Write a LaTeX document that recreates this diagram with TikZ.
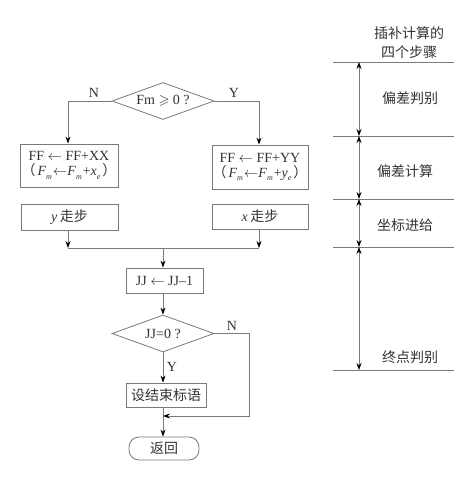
\documentclass[tikz,border=0pt]{standalone}
\usepackage{amssymb}
\usepackage{fontspec}
\setmainfont{Liberation Serif}
\newfontfamily\cjk{Noto Sans CJK SC}
\usetikzlibrary{shapes.geometric,arrows.meta}
\definecolor{ln}{HTML}{7A7A7A}
\definecolor{tx}{HTML}{333333}
\newcommand{\Fm}{\textit{F}\raisebox{-0.6ex}{\footnotesize\textit{m}}}
\newcommand{\subE}{\raisebox{-0.6ex}{\footnotesize\textit{e}}}
\begin{document}
\begin{tikzpicture}[x=1pt,y=-1pt,
  font=\fontsize{14}{16}\selectfont, text=tx,
  box/.style={draw=ln, line width=0.8pt, rectangle, inner sep=0pt, minimum width=#1},
  dia/.style={draw=ln, line width=0.8pt, diamond, aspect=2.75, inner sep=0pt, minimum width=102pt, minimum height=37pt},
  conn/.style={draw=ln, line width=0.8pt},
  arr/.style={conn, -{Stealth[length=7pt,width=5pt,fill=black,color=black]}},
  darr/.style={conn, {Stealth[length=7pt,width=5pt,fill=black,color=black]}-{Stealth[length=7pt,width=5pt,fill=black,color=black]}},
  lbl/.style={inner sep=0pt}]
\useasboundingbox (0,0) rectangle (476,480);
% flowchart
\node[dia] (d1) at (163,101) {Fm $\geqslant$ 0 ?};
\node[box=98pt, minimum height=43pt, align=center] (ff1) at (69,165.5) {FF $\leftarrow$ FF+XX\\[-1pt]{\cjk （}\hspace{2pt}\Fm\hspace{1pt}$\leftarrow$\Fm\hspace{1pt}+\textit{x}\subE\hspace{2pt}{\cjk ）}};
\node[box=96pt, minimum height=44pt, align=center] (ff2) at (260,167) {FF $\leftarrow$ FF+YY\\[-1pt]{\cjk （}\hspace{2pt}\Fm\hspace{1pt}$\leftarrow$\Fm\hspace{1pt}+\textit{y}\subE\hspace{2pt}{\cjk ）}};
\node[box=97pt, minimum height=26pt] (ys) at (69.5,217) {\textit{y}\,{\cjk 走步}};
\node[box=96pt, minimum height=25pt] (xs) at (260,216.5) {\textit{x}\,{\cjk 走步}};
\coordinate (jl) at (68,248);
\coordinate (jr) at (259,248);
\coordinate (jm) at (163,248);
\node[box=77pt, minimum height=25pt] (jj) at (164.5,280.5) {JJ $\leftarrow$ JJ--1};
\node[dia] (d2) at (163,333.5) {JJ=0 ?};
\node[box=80pt, minimum height=24pt] (end) at (166,395) {\cjk 设结束标语};
\node[draw=ln, line width=0.8pt, rounded corners=10pt, minimum width=70pt, minimum height=23pt, inner sep=0pt] (ret) at (164,448.5) {\cjk 返回};
\coordinate (m) at (163,416);
\coordinate (nr) at (249,333.5);
\coordinate (nb) at (249,416);
% connectors
\draw[arr] (d1.west) -| (jl |- ff1.north);
\draw[arr] (d1.east) -| (jr |- ff2.north);
\node[lbl] (n1) at (94,93) {N};
\node[lbl] (y1) at (234,93) {Y};
\draw[arr] (jl |- ys.south) -- (jl);
\draw[arr] (jr |- xs.south) -- (jr);
\draw[conn] (jl) -- (jr);
\draw[arr] (jm) -- (jm |- jj.north);
\draw[arr] (jm |- jj.south) -- (d2.north);
\draw[arr] (d2.south) -- (d2.south |- end.north);
\node[lbl] (y2) at (172,367) {Y};
\draw[arr] (d2.east) -- (nr) -- (nb) -- (m);
\node[lbl] (n2) at (232,326) {N};
\draw[arr] (m |- end.south) -- (m |- ret.north);
% right side
\node[lbl, font=\cjk\fontsize{14}{19}\selectfont, align=center] (head) at (409,43) {插补计算的\\四个步骤};
\foreach \i/\yy in {a/62,b/136,c/199,d/247,e/370}{
  \coordinate (L\i) at (333,\yy);
  \coordinate (R\i) at (454,\yy);
  \coordinate (V\i) at (359,\yy);
  \draw[conn] (L\i) -- (R\i);
}
\draw[darr] (Va) -- (Vb);
\draw[darr] (Vb) -- (Vc);
\draw[darr] (Vc) -- (Vd);
\draw[darr] (Vd) -- (Ve);
\node[lbl, font=\cjk\fontsize{14}{16}\selectfont] (s1) at (410,98) {偏差判别};
\node[lbl, font=\cjk\fontsize{14}{16}\selectfont] (s2) at (405,171) {偏差计算};
\node[lbl, font=\cjk\fontsize{14}{16}\selectfont] (s3) at (405,225) {坐标进给};
\node[lbl, font=\cjk\fontsize{14}{16}\selectfont] (s4) at (410,357) {终点判别};
\end{tikzpicture}
\end{document}
